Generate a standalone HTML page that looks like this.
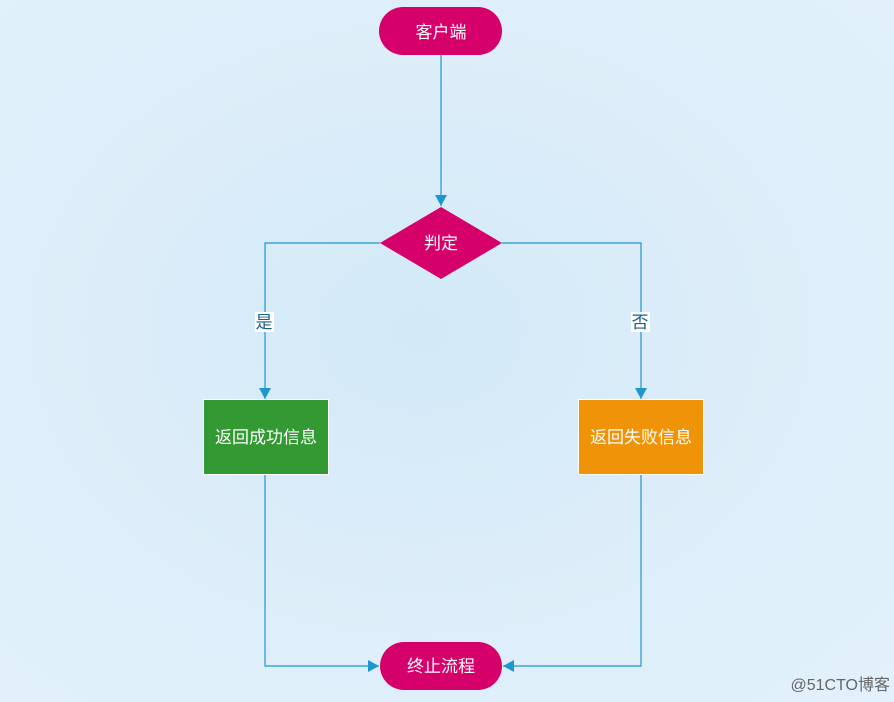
<!DOCTYPE html><html><head><meta charset="utf-8"><style>
body{margin:0;width:894px;height:702px;overflow:hidden;background:radial-gradient(ellipse at 420px 330px,#d2e9f8 0%,#dcedf9 45%,#e2f1fb 100%);font-family:"Liberation Sans","Noto Sans CJK SC",sans-serif}
</style></head><body>
<svg width="894" height="702" style="position:absolute;left:0;top:0" font-family="Liberation Sans, Noto Sans CJK SC, sans-serif">
<defs><marker id="a" markerWidth="12" markerHeight="12" refX="11" refY="6" orient="auto" markerUnits="userSpaceOnUse"><path d="M0,0 L11,6 L0,12 z" fill="#1e96cf"/></marker></defs>
<g stroke="#1e96cf" stroke-width="1.2" fill="none">
<path d="M441,55 V206" marker-end="url(#a)"/>
<path d="M380,243 H265 V399" marker-end="url(#a)"/>
<path d="M502,243 H641 V399" marker-end="url(#a)"/>
<path d="M265,474 V666 H379" marker-end="url(#a)"/>
<path d="M641,474 V666 H503" marker-end="url(#a)"/>
</g>
<rect x="379" y="7" width="123" height="48" rx="24" fill="#d6006b"/>
<text x="441" y="38" fill="#fff" font-size="17" text-anchor="middle">客户端</text>
<path d="M441,207 L502,243 L441,279 L380,243 z" fill="#d6006b"/>
<text x="441" y="249" fill="#fff" font-size="17" text-anchor="middle">判定</text>
<rect x="255" y="312" width="19" height="20" fill="#fff"/>
<text x="264" y="328" fill="#1a5f8a" font-size="17" text-anchor="middle">是</text>
<rect x="631" y="312" width="19" height="20" fill="#fff"/>
<text x="640" y="328" fill="#1a5f8a" font-size="17" text-anchor="middle">否</text>
<rect x="203.5" y="399.5" width="125" height="75" fill="#339933" stroke="#fff"/>
<text x="266" y="443" fill="#fff" font-size="17" text-anchor="middle">返回成功信息</text>
<rect x="578.5" y="399.5" width="125" height="75" fill="#ef9308" stroke="#fff"/>
<text x="641" y="443" fill="#fff" font-size="17" text-anchor="middle">返回失败信息</text>
<rect x="380" y="642" width="122" height="48" rx="24" fill="#d6006b"/>
<text x="441" y="672" fill="#fff" font-size="17" text-anchor="middle">终止流程</text>
<text x="890" y="690" fill="#666" font-size="16" text-anchor="end">@51CTO博客</text>
</svg>
</body></html>
